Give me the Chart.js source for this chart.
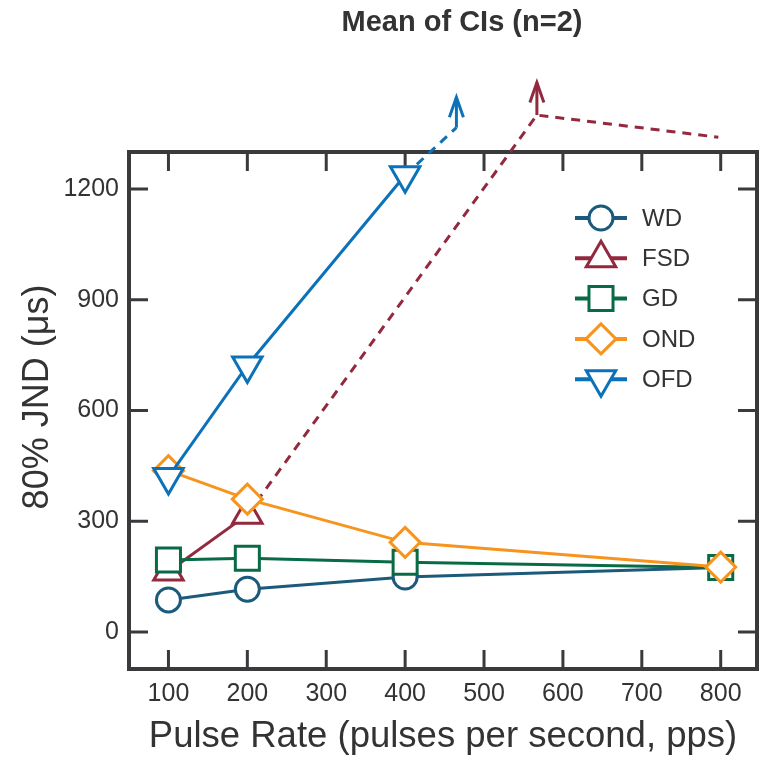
<!DOCTYPE html>
<html>
<head>
<meta charset="utf-8">
<script src="https://cdn.jsdelivr.net/npm/chart.js@4.4.1/dist/chart.umd.min.js"></script>
<style>
  html, body { margin: 0; padding: 0; background: #fff; }
  #wrap { width: 761px; height: 760px; }
</style>
</head>
<body>
<div id="wrap"><canvas id="chart" width="761" height="760"></canvas></div>
<script>
const pulseRates = [100, 200, 400, 800];
const wdValues = [87, 116, 149, 175];
const fsdValues = [164, 318];
const gdValues = [195, 200, 189, 175];
const ondValues = [437, 360, 243, 176];
const ofdValues = [420, 722, 1237];

// continuations that run off the top of the axes (dashed + arrow)
const fsdTrail = [[200, 318], [567, 1400], [797, 1340]];
const fsdArrow = [[567, 1400], [567, 1488]];
const ofdTrail = [[400, 1237], [465, 1366]];
const ofdArrow = [[465, 1366], [465, 1448]];

const xTickValues = [100, 200, 300, 400, 500, 600, 700, 800];
const yTickValues = [0, 300, 600, 900, 1200];

const seriesNames = ["WD", "FSD", "GD", "OND", "OFD"];
const seriesColors = ["#1b5a7b", "#92293f", "#086b45", "#f7941e", "#0b72ba"];

const FONT = "'Liberation Sans', Arial, Helvetica, sans-serif";
const AXIS_COLOR = "#3a3a3c";
const TEXT_COLOR = "#333333";

const markerStyles = [
  { pointStyle: "circle", radius: 12, rotation: 0 },
  { pointStyle: "triangle", radius: 17, rotation: 0 },
  { pointStyle: "rect", radius: 17, rotation: 0 },
  { pointStyle: "rectRot", radius: 15, rotation: 0 },
  { pointStyle: "triangle", radius: 17, rotation: 180 }
];

function toPoints(xs, ys) {
  return ys.map((y, i) => ({ x: xs[i], y: y }));
}
function pairs(list) {
  return list.map((p) => ({ x: p[0], y: p[1] }));
}

const seriesValues = [wdValues, fsdValues, gdValues, ondValues, ofdValues];

const mainSets = seriesValues.map((vals, i) => ({
  label: seriesNames[i],
  data: toPoints(pulseRates, vals),
  borderColor: seriesColors[i],
  backgroundColor: "#ffffff",
  borderWidth: 3,
  pointStyle: markerStyles[i].pointStyle,
  pointRadius: markerStyles[i].radius,
  pointRotation: markerStyles[i].rotation,
  pointBorderWidth: 3,
  pointBackgroundColor: "#ffffff",
  pointBorderColor: seriesColors[i],
  tension: 0,
  clip: false,
  order: 5 - i
}));

function trailSet(points, color, dashed, isArrow) {
  return {
    label: "_trail",
    data: pairs(points),
    borderColor: color,
    borderWidth: 3,
    borderDash: dashed ? [9, 7] : [],
    pointRadius: 0,
    tension: 0,
    clip: false,
    order: 10,
    isArrow: isArrow
  };
}

const extraSets = [
  trailSet(fsdTrail, seriesColors[1], true, false),
  trailSet(fsdArrow, seriesColors[1], false, true),
  trailSet(ofdTrail, seriesColors[4], true, false),
  trailSet(ofdArrow, seriesColors[4], false, true)
];

const frameAndTicks = {
  id: "frameAndTicks",
  beforeDatasetsDraw(chart) {
    const { ctx, chartArea: ca, scales } = chart;
    ctx.save();
    ctx.strokeStyle = AXIS_COLOR;
    ctx.lineWidth = 3;
    ctx.lineCap = "butt";
    const len = 19;
    xTickValues.forEach((v) => {
      const px = scales.x.getPixelForValue(v);
      ctx.beginPath();
      ctx.moveTo(px, ca.bottom); ctx.lineTo(px, ca.bottom - len);
      ctx.moveTo(px, ca.top); ctx.lineTo(px, ca.top + len);
      ctx.stroke();
    });
    yTickValues.forEach((v) => {
      const py = scales.y.getPixelForValue(v);
      ctx.beginPath();
      ctx.moveTo(ca.left, py); ctx.lineTo(ca.left + len, py);
      ctx.moveTo(ca.right, py); ctx.lineTo(ca.right - len, py);
      ctx.stroke();
    });
    ctx.lineWidth = 4;
    ctx.strokeRect(ca.left, ca.top, ca.right - ca.left, ca.bottom - ca.top);
    ctx.restore();
  }
};

const arrowHeads = {
  id: "arrowHeads",
  afterDatasetsDraw(chart) {
    const ctx = chart.ctx;
    chart.data.datasets.forEach((ds, i) => {
      if (!ds.isArrow) return;
      const pts = chart.getDatasetMeta(i).data;
      const tip = pts[pts.length - 1];
      ctx.save();
      ctx.strokeStyle = ds.borderColor;
      ctx.lineWidth = 3;
      ctx.lineJoin = "miter";
      ctx.beginPath();
      ctx.moveTo(tip.x - 7, tip.y + 20);
      ctx.lineTo(tip.x, tip.y);
      ctx.lineTo(tip.x + 7, tip.y + 20);
      ctx.stroke();
      ctx.restore();
    });
  }
};

const textLayer = {
  id: "textLayer",
  afterDraw(chart) {
    const { ctx, chartArea: ca } = chart;
    ctx.save();
    ctx.fillStyle = TEXT_COLOR;
    ctx.font = "bold 29px " + FONT;
    ctx.textAlign = "center";
    ctx.textBaseline = "middle";
    ctx.fillText("Mean of CIs (n=2)", 462, 23);

    // y axis title
    ctx.save();
    ctx.translate(38, 397);
    ctx.rotate(-Math.PI / 2);
    ctx.font = "36px " + FONT;
    ctx.fillText("80% JND (μs)", 0, 0);
    ctx.restore();

    const lineStart = ca.left + 446;
    const lineEnd = ca.left + 498;
    const markX = ca.left + 472;
    const textX = ca.left + 513;
    seriesNames.forEach((name, i) => {
      const y = ca.top + 66 + i * 40.3;
      ctx.strokeStyle = seriesColors[i];
      ctx.lineWidth = 4;
      ctx.beginPath();
      ctx.moveTo(lineStart, y);
      ctx.lineTo(lineEnd, y);
      ctx.stroke();
      ctx.fillStyle = "#ffffff";
      ctx.lineWidth = 3;
      Chart.helpers.drawPoint(ctx, {
        pointStyle: markerStyles[i].pointStyle,
        radius: markerStyles[i].radius,
        rotation: markerStyles[i].rotation,
        borderWidth: 3
      }, markX, y);
      ctx.fillStyle = TEXT_COLOR;
      ctx.font = "24px " + FONT;
      ctx.textAlign = "left";
      ctx.textBaseline = "middle";
      ctx.fillText(name, textX, y + 1);
    });
    ctx.restore();
  }
};

new Chart(document.getElementById("chart"), {
  type: "line",
  data: { datasets: mainSets.concat(extraSets) },
  options: {
    responsive: false,
    animation: false,
    devicePixelRatio: 1,
    layout: { autoPadding: false, padding: { top: 152, right: 4, left: 0, bottom: 0 } },
    plugins: { legend: { display: false }, tooltip: { enabled: false }, title: { display: false } },
    scales: {
      x: {
        type: "linear",
        min: 50,
        max: 846,
        afterBuildTicks: (scale) => { scale.ticks = xTickValues.map((v) => ({ value: v })); },
        afterFit: (scale) => { scale.height = 91; scale.paddingLeft = 0; scale.paddingRight = 0; },
        grid: { display: false, drawTicks: false },
        border: { display: false },
        ticks: { color: TEXT_COLOR, font: { family: FONT, size: 25 }, padding: 10, maxRotation: 0, callback: (v) => String(v) },
        title: {
          display: true,
          text: "Pulse Rate (pulses per second, pps)",
          color: TEXT_COLOR,
          font: { family: FONT, size: 36.5 },
          padding: { top: 0, bottom: 1 }
        }
      },
      y: {
        type: "linear",
        min: -100,
        max: 1300,
        afterBuildTicks: (scale) => { scale.ticks = yTickValues.map((v) => ({ value: v })); },
        afterFit: (scale) => { scale.width = 129; scale.paddingTop = 0; scale.paddingBottom = 0; },
        grid: { display: false, drawTicks: false },
        border: { display: false },
        ticks: { color: TEXT_COLOR, font: { family: FONT, size: 25 }, padding: 10, callback: (v) => String(v) }
      }
    }
  },
  plugins: [frameAndTicks, arrowHeads, textLayer]
});
</script>
</body>
</html>
